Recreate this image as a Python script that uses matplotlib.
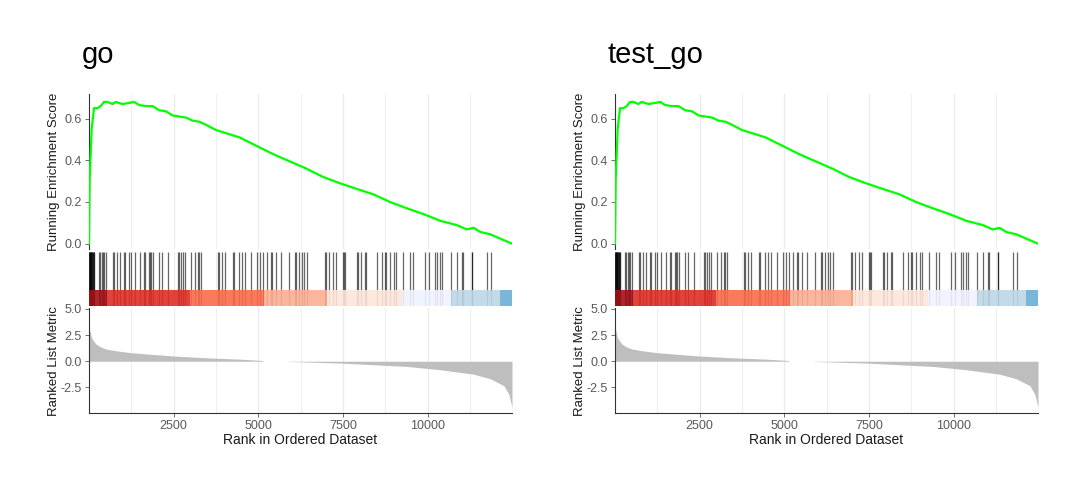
import numpy as np
import matplotlib
matplotlib.use("Agg")
import matplotlib.pyplot as plt
from matplotlib.patches import Rectangle

plt.rcParams['font.family'] = ['Liberation Sans', 'DejaVu Sans']

# ---- data (both panels show the same gene set result) ----
titles = ["go", "test_go"]
n_genes = 12490

# running enrichment score, sampled along the rank axis
es_rank = [0, 20, 79, 148, 247, 346, 444, 543, 691, 790, 987, 1185, 1333, 1481,
           1678, 1876, 2073, 2271, 2468, 2666, 2863, 3061, 3258, 3456, 3752,
           4048, 4443, 4936, 5430, 5924, 6417, 6911, 7405, 7898, 8392, 8886,
           9379, 9873, 10367, 10860, 11156, 11354, 11551, 11848, 12144, 12490]
es_value = [0.0, 0.31, 0.55, 0.65, 0.65, 0.66, 0.68, 0.68, 0.67, 0.68, 0.67,
            0.675, 0.68, 0.665, 0.66, 0.66, 0.64, 0.635, 0.615, 0.61, 0.605,
            0.59, 0.585, 0.57, 0.545, 0.53, 0.51, 0.47, 0.43, 0.395, 0.36,
            0.32, 0.29, 0.263, 0.237, 0.20, 0.17, 0.142, 0.11, 0.089, 0.068,
            0.076, 0.056, 0.045, 0.024, 0.0]

# positions of the gene-set members in the ranked list
hit_ranks = [5, 12, 20, 28, 35, 45, 55, 65, 78, 90, 105, 120, 140, 155,
             285, 330, 380, 420, 450, 510, 700, 740, 835, 912, 1030, 1055,
             1185, 1250, 1372, 1505, 1630, 1650, 1760, 1800, 1840, 1880,
             2080, 2150, 2330, 2620, 2670, 2720, 2780, 2830, 3005, 3125,
             3215, 3260, 3300, 3815, 3850, 3925, 4020, 4260, 4280, 4418,
             4515, 4605, 4778, 4952, 5035, 5134, 5258, 5360, 5415, 5515,
             5662, 5910, 6080, 6115, 6186, 6280, 6355, 6443, 6965, 6990,
             7075, 7197, 7300, 7490, 7520, 7555, 7920, 7950, 8045, 8140,
             8190, 8515, 8663, 8730, 8770, 8880, 9010, 9078, 9262, 9483,
             9562, 9927, 10026, 10205, 10273, 10352, 10420, 10698, 10865,
             11020, 11050, 11300, 11320, 11763, 11862]

# colour strip below the hits
band_edges = [0, 543, 2982, 5154, 7029, 9232, 10684, 12124, 12490]
band_colors = ["#A50F15", "#DE2D26", "#FB6A4A", "#FCAE91", "#FEE5D9",
               "#EFF3FF", "#BDD7E7", "#6BAED6"]

# ranked list metric
metric_rank = [0, 20, 80, 200, 350, 500, 800, 1200, 1800, 2500, 3450, 4450,
               5100, 5150, 5850, 5880, 6400, 7400, 8400, 9400, 10350, 11350,
               11850, 12250, 12400, 12460, 12490]
metric_value = [3.3, 3.0, 2.2, 1.65, 1.35, 1.17, 1.0, 0.83, 0.67, 0.5, 0.33,
                0.2, 0.08, 0.0, 0.0, -0.02, -0.07, -0.17, -0.33, -0.5, -0.8,
                -1.23, -1.67, -2.33, -3.17, -4.0, -4.4]

grid_major = [2500, 5000, 7500, 10000]
grid_minor = [1250, 3750, 6250, 8750, 11250]

GRID = "#EBEBEB"
TXT = "#595959"


def grid_lines(ax):
    for g in grid_major:
        ax.axvline(g, color=GRID, lw=0.9, zorder=0)
    for g in grid_minor:
        ax.axvline(g, color=GRID, lw=0.6, zorder=0)


def draw_gsea(fig, left, title):
    width = 423 / 1080
    # running score
    ax1 = fig.add_axes([left, 0.489, width, 0.318])
    grid_lines(ax1)
    ax1.plot(es_rank, es_value, color="#00FF00", lw=1.6, zorder=3)
    ax1.set_xlim(0, n_genes)
    ax1.set_ylim(-0.025, 0.718)
    ax1.set_yticks([0.0, 0.2, 0.4, 0.6])
    ax1.set_yticklabels(["0.0", "0.2", "0.4", "0.6"])
    ax1.set_xticks([])
    for s in ["top", "right", "bottom"]:
        ax1.spines[s].set_visible(False)
    ax1.spines["left"].set_color("#333333")
    ax1.spines["left"].set_linewidth(0.8)
    ax1.tick_params(axis="y", labelsize=9, colors=TXT, length=3, width=0.6, pad=2)
    ax1.set_ylabel("Running Enrichment Score", fontsize=9.5, color="#1A1A1A")
    ax1.yaxis.set_label_coords(-0.068, 0.5)

    # hits + colour strip
    ax2 = fig.add_axes([left, 0.372, width, 0.110])
    grid_lines(ax2)
    ax2.vlines(hit_ranks, 0, 1, color="black", lw=0.9, alpha=0.6, zorder=2)
    for i, c in enumerate(band_colors):
        ax2.add_patch(Rectangle((band_edges[i], 0), band_edges[i + 1] - band_edges[i],
                                0.29, color=c, alpha=0.9, lw=0, zorder=3))
    ax2.set_xlim(0, n_genes)
    ax2.set_ylim(0, 1)
    ax2.axis("off")

    # ranked list metric
    ax3 = fig.add_axes([left, 0.152, width, 0.215])
    grid_lines(ax3)
    ax3.fill_between(metric_rank, 0, metric_value, color="#BEBEBE", lw=0, zorder=2)
    ax3.set_xlim(0, n_genes)
    ax3.set_ylim(-4.93, 5.05)
    ax3.set_yticks([5.0, 2.5, 0.0, -2.5])
    ax3.set_yticklabels(["5.0", "2.5", "0.0", "-2.5"])
    ax3.set_xticks(grid_major)
    ax3.set_xticklabels([str(g) for g in grid_major])
    for s in ["top", "right"]:
        ax3.spines[s].set_visible(False)
    for s in ["left", "bottom"]:
        ax3.spines[s].set_color("#333333")
        ax3.spines[s].set_linewidth(0.8)
    ax3.tick_params(labelsize=9, colors=TXT, length=3, width=0.6, pad=2)
    ax3.set_ylabel("Ranked List Metric", fontsize=9.5, color="#1A1A1A")
    ax3.yaxis.set_label_coords(-0.068, 0.5)
    ax3.set_xlabel("Rank in Ordered Dataset", fontsize=10, color="#1A1A1A", labelpad=1)

    fig.text(left - 7 / 1080, 0.887, title, fontsize=21, va="center", ha="left")


fig = plt.figure(figsize=(10.8, 4.87), dpi=100)
draw_gsea(fig, 89 / 1080, titles[0])
draw_gsea(fig, 615 / 1080, titles[1])
fig.savefig("out.png", dpi=100)
